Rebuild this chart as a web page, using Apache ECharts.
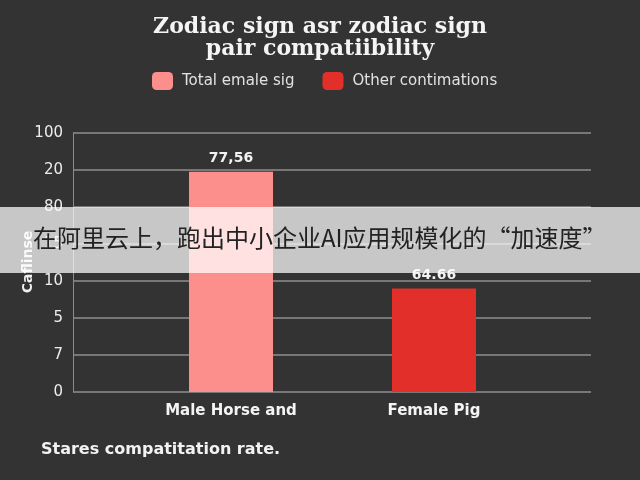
<!DOCTYPE html>
<html>
<head>
<meta charset="utf-8">
<script src="https://cdn.jsdelivr.net/npm/echarts@6/dist/echarts.min.js"></script>
<style>
html,body{margin:0;padding:0;background:#333333;}
#chart{width:640px;height:480px;}
</style>
</head>
<body>
<div id="chart"></div>
<script>
// ---- data ----
const titleText = 'Zodiac sign asr zodiac sign\npair compatiibility';
const categories = ['Male Horse and', 'Female Pig'];
const seriesNames = ['Total emale sig', 'Other contimations'];
const seriesColors = ['#fc8f8b', '#e22f29'];
const barValues = [5.95, 2.8];          // heights in axis steps
const barLabels = ['77,56', '64.66'];    // printed labels
const yTickLabels = ['0', '7', '5', '10', '15', '80', '20', '100'];
const yAxisName = 'Caflinse';
const footnote = 'Stares compatitation rate.';
const bannerText = '在阿里云上，跑出中小企业AI应用规模化的“加速度”';

const SANS = 'DejaVu Sans, Liberation Sans, Arial, sans-serif';
const chart = echarts.init(document.getElementById('chart'));

const series = seriesNames.map((name, i) => ({
  name: name,
  type: 'bar',
  xAxisIndex: 1,
  yAxisIndex: 1,
  barWidth: 84,
  barGap: '-100%',
  itemStyle: { color: seriesColors[i] },
  label: {
    show: true,
    position: 'top',
    distance: 6,
    color: '#f2f2f2',
    fontWeight: 'bold',
    fontSize: 14,
    fontFamily: SANS,
    formatter: () => barLabels[i]
  },
  data: categories.map((c, j) => (j === i ? barValues[i] : '-'))
}));

chart.setOption({
  backgroundColor: '#333333',
  animation: false,
  title: {
    text: titleText,
    left: 'center',
    top: 11,
    textStyle: {
      color: '#f4f4f4',
      fontFamily: 'DejaVu Serif, serif',
      fontWeight: 'bold',
      fontSize: 22,
      lineHeight: 22
    }
  },
  legend: {
    left: 147,
    top: 67,
    itemWidth: 21,
    itemHeight: 18,
    itemGap: 28,
    icon: 'roundRect',
    data: seriesNames,
    textStyle: {
      color: '#e2e2e2',
      fontSize: 15,
      fontFamily: SANS,
      padding: [0, 0, 0, 4]
    }
  },
  grid: [
    { left: 73, right: 49, top: 133, bottom: 88 },
    { left: 129.5, right: 104.5, top: 133, bottom: 88 }
  ],
  xAxis: [
    { gridIndex: 0, type: 'category', data: [''], show: false },
    {
      gridIndex: 1, type: 'category', data: categories,
      axisLine: { show: false }, axisTick: { show: false },
      axisLabel: {
        color: '#f4f4f4', fontWeight: 'bold', fontSize: 15, margin: 12,
        fontFamily: SANS
      }
    }
  ],
  yAxis: [
    {
      gridIndex: 0, type: 'value', min: 0, max: 7, interval: 1,
      axisLine: { show: true, lineStyle: { color: '#8a8a8a', width: 1 } },
      axisTick: { show: false },
      splitLine: { lineStyle: { color: '#8f8f8f', width: 1.5 } },
      axisLabel: {
        color: '#ececec', fontSize: 15, margin: 10,
        fontFamily: SANS,
        formatter: (v) => yTickLabels[Math.round(v)]
      }
    },
    { gridIndex: 1, type: 'value', min: 0, max: 7, interval: 1, show: false }
  ],
  series: series,
  graphic: [
    {
      type: 'text', x: 28, y: 262, rotation: Math.PI / 2, z: 10,
      style: {
        text: yAxisName, fill: '#f0f0f0', fontWeight: 'bold', fontSize: 14,
        fontFamily: SANS, align: 'center', verticalAlign: 'middle'
      }
    },
    {
      type: 'text', left: 41, top: 442, z: 10,
      style: {
        text: footnote, fill: '#f2f2f2', fontWeight: 'bold', fontSize: 16,
        fontFamily: SANS
      }
    },
    {
      type: 'rect', left: 0, top: 207, z: 100,
      shape: { width: 640, height: 66 },
      style: { fill: 'rgba(255,255,255,0.73)' }
    },
    {
      type: 'text', left: 33, top: 226, z: 101,
      style: {
        text: bannerText, fill: '#222222', fontSize: 24,
        fontFamily: 'Noto Sans CJK SC, sans-serif'
      }
    }
  ]
});
</script>
</body>
</html>
